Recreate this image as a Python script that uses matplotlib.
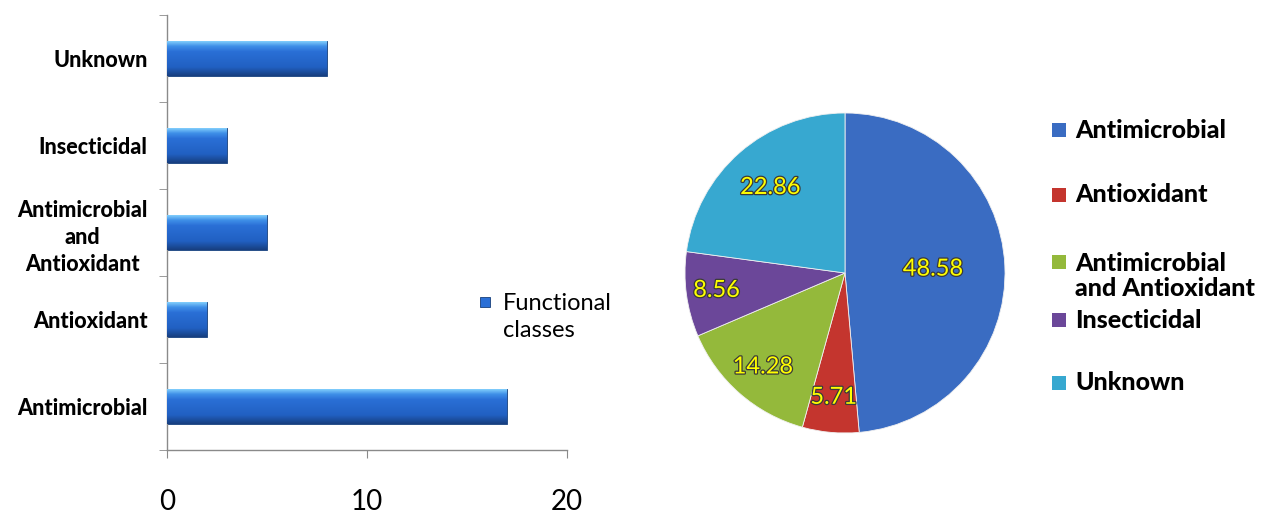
import numpy as np
import matplotlib.pyplot as plt
from matplotlib.patches import Rectangle
from matplotlib.colors import LinearSegmentedColormap
import matplotlib.patheffects as pe

plt.rcParams['font.family'] = ['Lato', 'DejaVu Sans']

# bar chart data (bottom to top)
bar_cats = ['Antimicrobial', 'Antioxidant', 'Antimicrobial\nand\nAntioxidant', 'Insecticidal', 'Unknown']
bar_vals = [17, 2, 5, 3, 8]
bar_ticks = [0, 10, 20]

# pie chart data (clockwise from top)
pie_labels = ['Antimicrobial', 'Antioxidant', 'Antimicrobial\nand Antioxidant', 'Insecticidal', 'Unknown']
pie_vals = [48.58, 5.71, 14.28, 8.56, 22.86]
pie_colors = ['#3A6CC2', '#C4352E', '#94B93B', '#6B4799', '#37A8D0']
label_r = [0.55, 0.78, 0.78, 0.81, 0.71]   # how far out each value label sits

W, H = 1276, 514
fig = plt.figure(figsize=(W / 100, H / 100), dpi=100)


def px(x0, y0, x1, y1):
    # pixel box (top-left origin) -> figure rect
    return [x0 / W, 1 - y1 / H, (x1 - x0) / W, (y1 - y0) / H]


def fx(x):
    return x / W


def fy(y):
    return 1 - y / H


# ---- left: horizontal bars ----
ax = fig.add_axes(px(167, 15, 567, 450))
y = np.arange(len(bar_cats))
bars = ax.barh(y, bar_vals, height=0.4, color='#2A6FD2', edgecolor='#173f7a', linewidth=0.6, zorder=2)

grad = LinearSegmentedColormap.from_list(
    'bar', [(0, '#173f80'), (0.25, '#2160c2'), (0.7, '#2a6fd6'), (0.86, '#3f8fe8'), (1, '#80cdfb')])
for b in bars:
    x0, y0, w, h = b.get_x(), b.get_y(), b.get_width(), b.get_height()
    ax.imshow(np.linspace(0, 1, 64).reshape(-1, 1), cmap=grad, aspect='auto', origin='lower',
              extent=[x0, x0 + w, y0, y0 + h], clip_path=b, zorder=3)

ax.set_xlim(0, 20)
ax.set_ylim(-0.5, len(bar_cats) - 0.5)
ax.set_aspect('auto')
for s in ['top', 'right']:
    ax.spines[s].set_visible(False)
for s in ['left', 'bottom']:
    ax.spines[s].set_color('#8a8a8a')
    ax.spines[s].set_linewidth(1.0)

ax.set_xticks(bar_ticks)
ax.set_xticklabels([str(t) for t in bar_ticks], fontsize=20)
ax.tick_params(axis='x', length=6, color='#8a8a8a', pad=22)

ax.set_yticks(y)
ax.set_yticklabels(bar_cats, fontsize=15.5, fontweight='black')
for lab in ax.get_yticklabels():
    lab.set_multialignment('center')
    lab.set_linespacing(1.37)
ax.tick_params(axis='y', which='major', length=0, pad=14)
ax.set_yticks(np.arange(-0.5, len(bar_cats)), minor=True)
ax.tick_params(axis='y', which='minor', length=6, color='#8a8a8a')

# series legend
fig.patches.append(Rectangle((fx(480), fy(307)), fx(10), 10 / H, transform=fig.transFigure,
                             facecolor='#2a6fd6', edgecolor='#173f7a', linewidth=0.6))
fig.text(fx(503), fy(317), 'Functional\nclasses', fontsize=17, va='center', ha='left', linespacing=1.4)

# ---- right: pie ----
ax2 = fig.add_axes(px(685, 113, 1005, 433))
wedges, _ = ax2.pie(pie_vals, colors=pie_colors, startangle=90, counterclock=False, radius=1,
                    wedgeprops=dict(edgecolor='#f0f0f0', linewidth=0.6))
ax2.set_xlim(-1, 1)
ax2.set_ylim(-1, 1)
ax2.set_aspect('equal')

for wdg, v, r in zip(wedges, pie_vals, label_r):
    ang = np.deg2rad((wdg.theta1 + wdg.theta2) / 2)
    ax2.text(r * np.cos(ang), r * np.sin(ang), f'{v:.2f}', color='#FFFF00', fontsize=17,
             ha='center', va='center',
             path_effects=[pe.withStroke(linewidth=1.8, foreground='#3a3a3a')])

# pie legend, drawn by hand to keep Excel's uneven spacing
leg_y = [130, 195, 262, 320, 383]
for lab, col, yy in zip(pie_labels, pie_colors, leg_y):
    fig.patches.append(Rectangle((fx(1052), fy(yy + 7)), fx(14), 14 / H, transform=fig.transFigure,
                                 facecolor=col, edgecolor='none'))
    n = lab.count('\n')
    fig.text(fx(1075), fy(yy + 14 * n), lab, fontsize=18, fontweight='black', va='center',
             ha='left', linespacing=1.1)

fig.savefig('out.png', dpi=100)
